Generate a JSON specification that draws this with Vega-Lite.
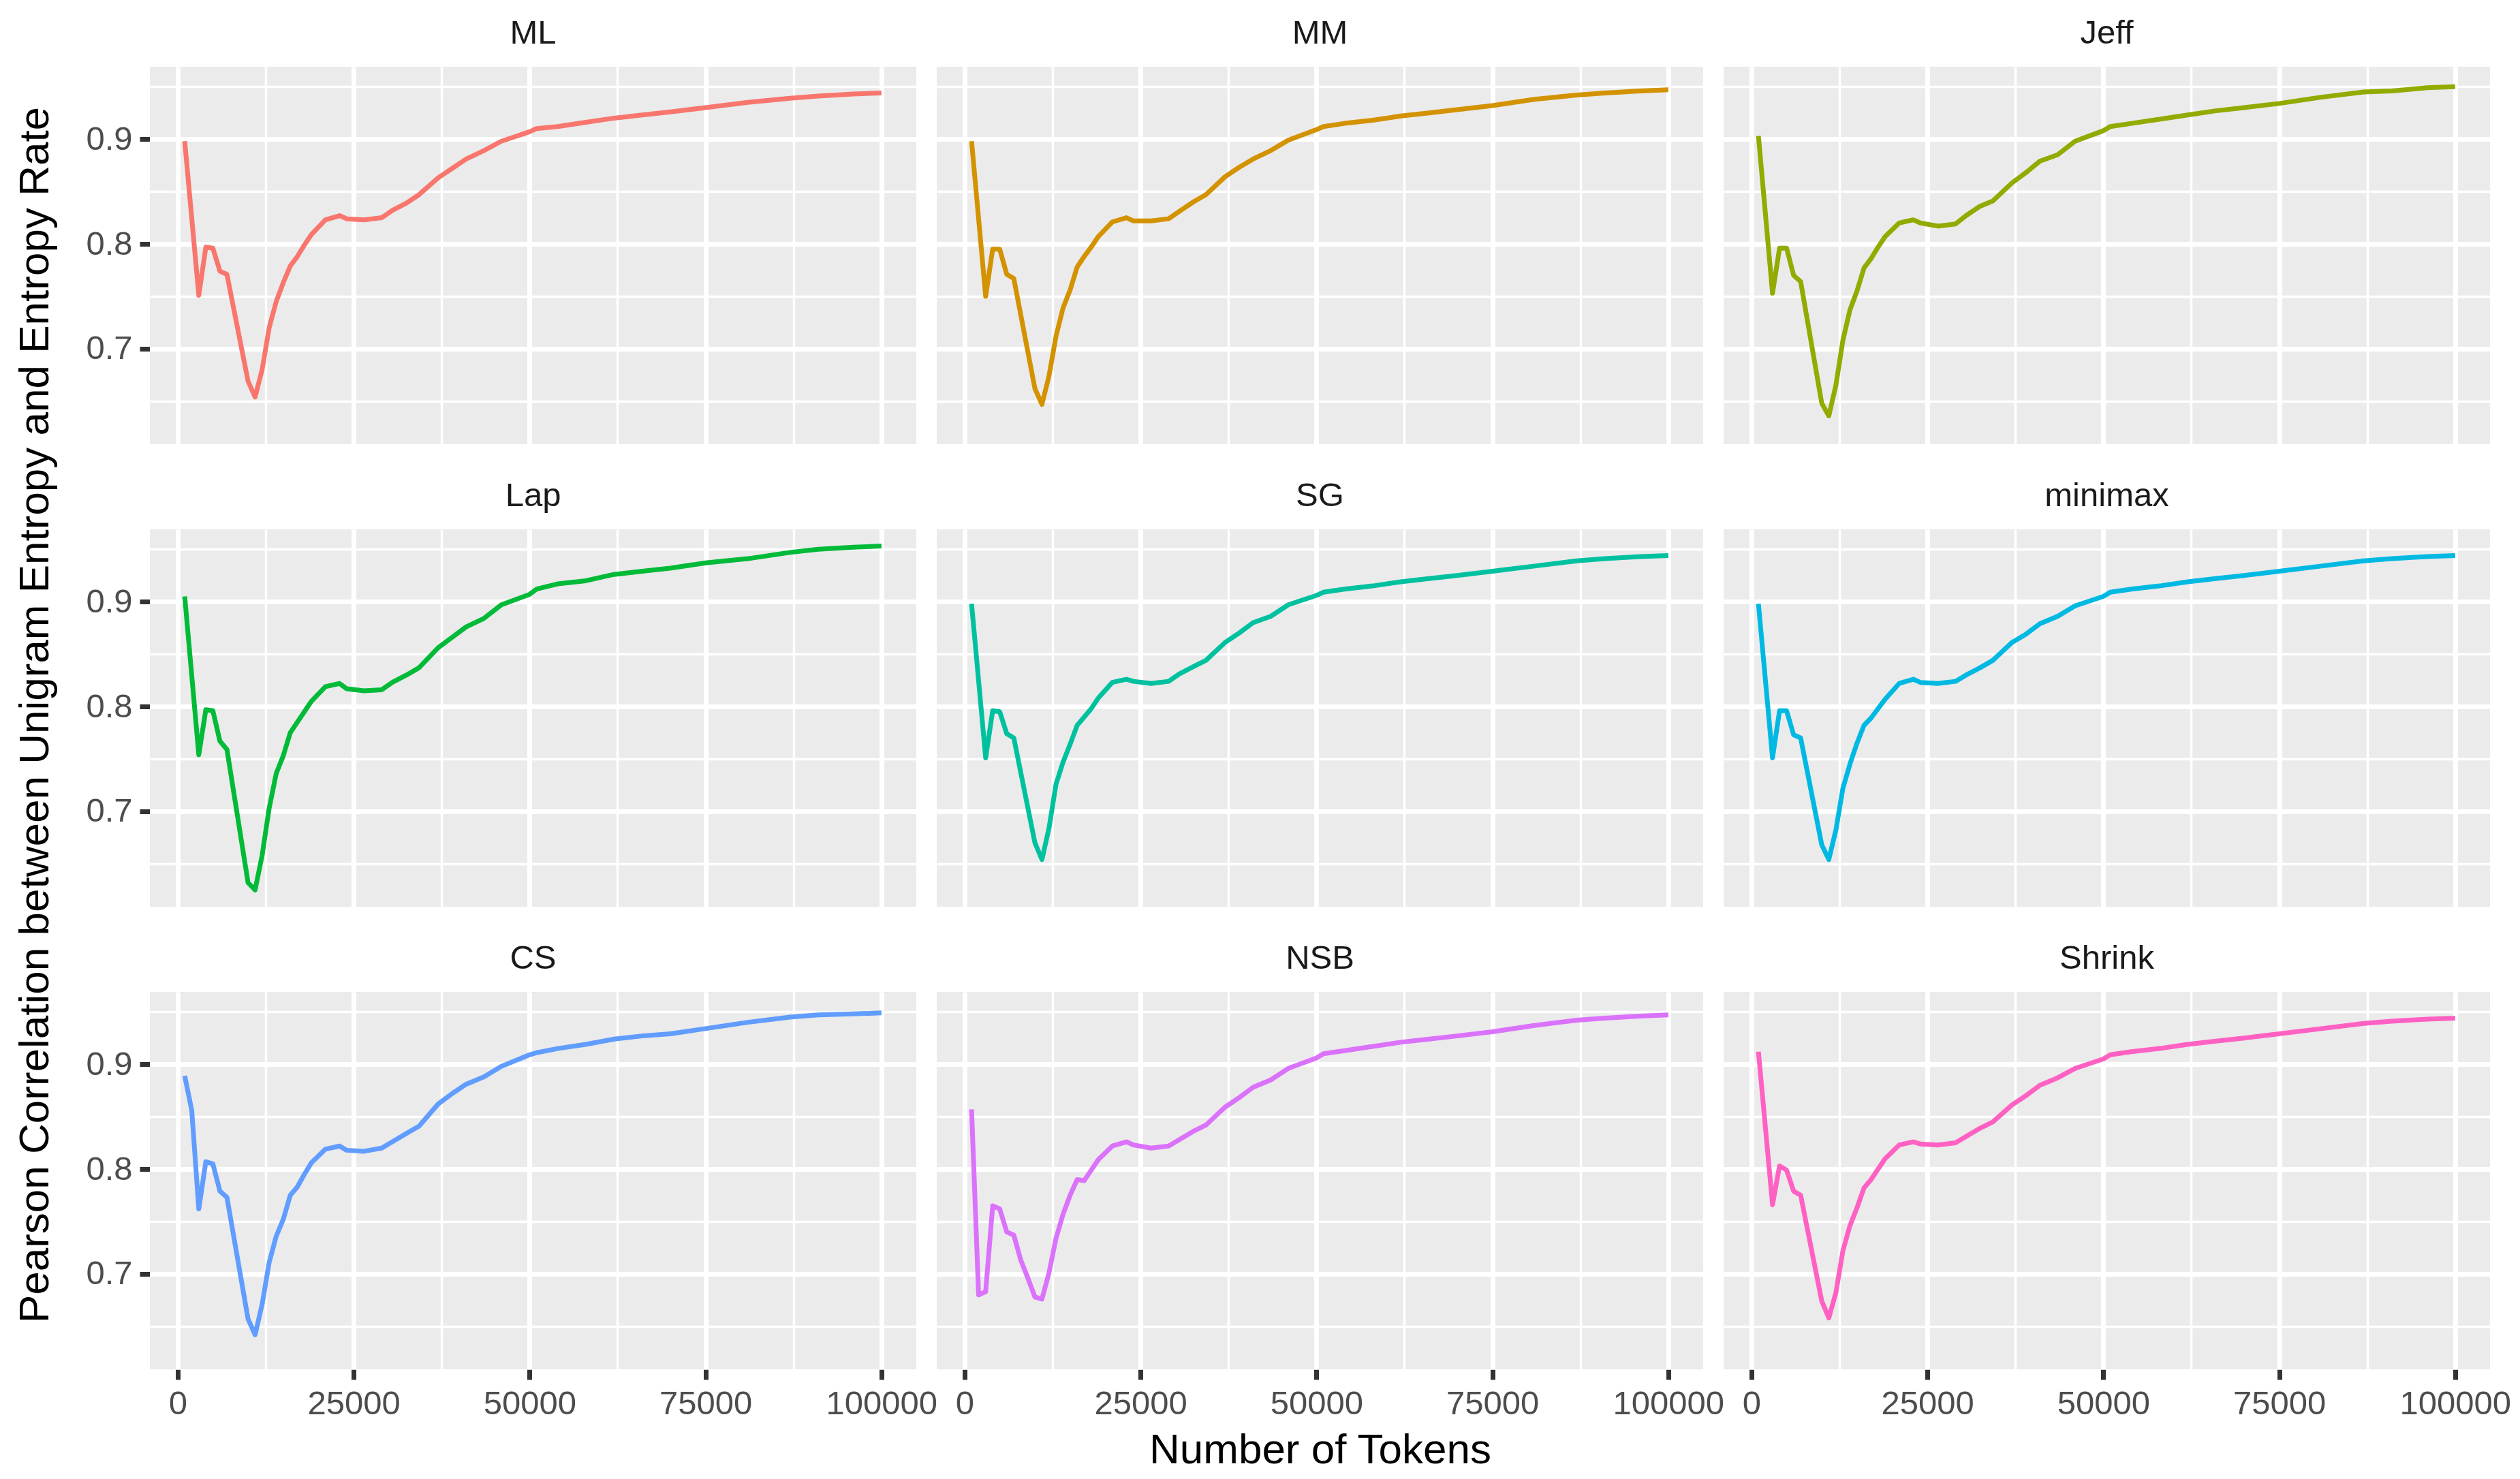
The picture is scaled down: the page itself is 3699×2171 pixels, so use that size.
{
  "$schema": "https://vega.github.io/schema/vega-lite/v6.json",
  "background": "white",
  "padding": {"left": 20, "top": 25, "right": 0, "bottom": 0},
  "title": {
    "text": "Pearson Correlation between Unigram Entropy and Entropy Rate",
    "orient": "left",
    "anchor": "middle",
    "font": "Liberation Sans",
    "fontSize": 62,
    "fontWeight": "normal",
    "color": "#000000",
    "offset": 42,
    "dx": 43
  },
  "datasets": {
    "d": [
      {"m":"ML","x":1000,"y":0.898},{"m":"ML","x":3000,"y":0.751},{"m":"ML","x":4000,"y":0.797},{"m":"ML","x":5000,"y":0.796},{"m":"ML","x":6000,"y":0.774},{"m":"ML","x":7000,"y":0.771},{"m":"ML","x":10000,"y":0.669},{"m":"ML","x":11000,"y":0.654},{"m":"ML","x":12000,"y":0.680},{"m":"ML","x":13000,"y":0.720},{"m":"ML","x":14000,"y":0.745},{"m":"ML","x":15000,"y":0.763},{"m":"ML","x":16000,"y":0.779},{"m":"ML","x":17000,"y":0.788},{"m":"ML","x":18000,"y":0.799},{"m":"ML","x":19000,"y":0.809},{"m":"ML","x":21000,"y":0.823},{"m":"ML","x":23000,"y":0.827},{"m":"ML","x":24000,"y":0.824},{"m":"ML","x":26500,"y":0.823},{"m":"ML","x":29000,"y":0.825},{"m":"ML","x":30500,"y":0.832},{"m":"ML","x":32500,"y":0.839},{"m":"ML","x":34300,"y":0.847},{"m":"ML","x":37000,"y":0.863},{"m":"ML","x":39000,"y":0.872},{"m":"ML","x":41000,"y":0.881},{"m":"ML","x":43500,"y":0.889},{"m":"ML","x":46000,"y":0.898},{"m":"ML","x":50000,"y":0.907},{"m":"ML","x":51000,"y":0.910},{"m":"ML","x":54000,"y":0.912},{"m":"ML","x":58000,"y":0.916},{"m":"ML","x":62000,"y":0.920},{"m":"ML","x":66000,"y":0.923},{"m":"ML","x":70000,"y":0.926},{"m":"ML","x":75000,"y":0.930},{"m":"ML","x":81000,"y":0.935},{"m":"ML","x":87000,"y":0.939},{"m":"ML","x":91000,"y":0.941},{"m":"ML","x":96000,"y":0.943},{"m":"ML","x":100000,"y":0.944},
      {"m":"MM","x":1000,"y":0.898},{"m":"MM","x":3000,"y":0.750},{"m":"MM","x":4000,"y":0.795},{"m":"MM","x":5000,"y":0.795},{"m":"MM","x":6000,"y":0.771},{"m":"MM","x":7000,"y":0.767},{"m":"MM","x":10000,"y":0.662},{"m":"MM","x":11000,"y":0.647},{"m":"MM","x":12000,"y":0.674},{"m":"MM","x":13000,"y":0.712},{"m":"MM","x":14000,"y":0.739},{"m":"MM","x":15000,"y":0.756},{"m":"MM","x":16000,"y":0.778},{"m":"MM","x":17000,"y":0.788},{"m":"MM","x":18000,"y":0.797},{"m":"MM","x":19000,"y":0.807},{"m":"MM","x":21000,"y":0.821},{"m":"MM","x":23000,"y":0.825},{"m":"MM","x":24000,"y":0.822},{"m":"MM","x":26500,"y":0.822},{"m":"MM","x":29000,"y":0.824},{"m":"MM","x":30500,"y":0.831},{"m":"MM","x":32500,"y":0.840},{"m":"MM","x":34300,"y":0.847},{"m":"MM","x":37000,"y":0.864},{"m":"MM","x":39000,"y":0.873},{"m":"MM","x":41000,"y":0.881},{"m":"MM","x":43500,"y":0.889},{"m":"MM","x":46000,"y":0.899},{"m":"MM","x":50000,"y":0.909},{"m":"MM","x":51000,"y":0.912},{"m":"MM","x":54000,"y":0.915},{"m":"MM","x":58000,"y":0.918},{"m":"MM","x":62000,"y":0.922},{"m":"MM","x":66000,"y":0.925},{"m":"MM","x":70000,"y":0.928},{"m":"MM","x":75000,"y":0.932},{"m":"MM","x":81000,"y":0.938},{"m":"MM","x":87000,"y":0.942},{"m":"MM","x":91000,"y":0.944},{"m":"MM","x":96000,"y":0.946},{"m":"MM","x":100000,"y":0.947},
      {"m":"Jeff","x":1000,"y":0.903},{"m":"Jeff","x":3000,"y":0.753},{"m":"Jeff","x":4000,"y":0.796},{"m":"Jeff","x":5000,"y":0.796},{"m":"Jeff","x":6000,"y":0.770},{"m":"Jeff","x":7000,"y":0.764},{"m":"Jeff","x":10000,"y":0.648},{"m":"Jeff","x":11000,"y":0.636},{"m":"Jeff","x":12000,"y":0.665},{"m":"Jeff","x":13000,"y":0.708},{"m":"Jeff","x":14000,"y":0.737},{"m":"Jeff","x":15000,"y":0.755},{"m":"Jeff","x":16000,"y":0.777},{"m":"Jeff","x":17000,"y":0.786},{"m":"Jeff","x":18000,"y":0.797},{"m":"Jeff","x":19000,"y":0.807},{"m":"Jeff","x":21000,"y":0.820},{"m":"Jeff","x":23000,"y":0.823},{"m":"Jeff","x":24000,"y":0.820},{"m":"Jeff","x":26500,"y":0.817},{"m":"Jeff","x":29000,"y":0.819},{"m":"Jeff","x":30500,"y":0.827},{"m":"Jeff","x":32500,"y":0.836},{"m":"Jeff","x":34300,"y":0.841},{"m":"Jeff","x":37000,"y":0.858},{"m":"Jeff","x":39000,"y":0.868},{"m":"Jeff","x":41000,"y":0.879},{"m":"Jeff","x":43500,"y":0.885},{"m":"Jeff","x":46000,"y":0.898},{"m":"Jeff","x":50000,"y":0.908},{"m":"Jeff","x":51000,"y":0.912},{"m":"Jeff","x":54000,"y":0.915},{"m":"Jeff","x":58000,"y":0.919},{"m":"Jeff","x":62000,"y":0.923},{"m":"Jeff","x":66000,"y":0.927},{"m":"Jeff","x":70000,"y":0.930},{"m":"Jeff","x":75000,"y":0.934},{"m":"Jeff","x":81000,"y":0.940},{"m":"Jeff","x":87000,"y":0.945},{"m":"Jeff","x":91000,"y":0.946},{"m":"Jeff","x":96000,"y":0.949},{"m":"Jeff","x":100000,"y":0.950},
      {"m":"Lap","x":1000,"y":0.905},{"m":"Lap","x":3000,"y":0.754},{"m":"Lap","x":4000,"y":0.797},{"m":"Lap","x":5000,"y":0.796},{"m":"Lap","x":6000,"y":0.767},{"m":"Lap","x":7000,"y":0.759},{"m":"Lap","x":10000,"y":0.632},{"m":"Lap","x":11000,"y":0.625},{"m":"Lap","x":12000,"y":0.658},{"m":"Lap","x":13000,"y":0.703},{"m":"Lap","x":14000,"y":0.736},{"m":"Lap","x":15000,"y":0.753},{"m":"Lap","x":16000,"y":0.775},{"m":"Lap","x":17000,"y":0.785},{"m":"Lap","x":18000,"y":0.795},{"m":"Lap","x":19000,"y":0.805},{"m":"Lap","x":21000,"y":0.819},{"m":"Lap","x":23000,"y":0.822},{"m":"Lap","x":24000,"y":0.817},{"m":"Lap","x":26500,"y":0.815},{"m":"Lap","x":29000,"y":0.816},{"m":"Lap","x":30500,"y":0.823},{"m":"Lap","x":32500,"y":0.830},{"m":"Lap","x":34300,"y":0.837},{"m":"Lap","x":37000,"y":0.856},{"m":"Lap","x":39000,"y":0.866},{"m":"Lap","x":41000,"y":0.876},{"m":"Lap","x":43500,"y":0.884},{"m":"Lap","x":46000,"y":0.897},{"m":"Lap","x":50000,"y":0.907},{"m":"Lap","x":51000,"y":0.912},{"m":"Lap","x":54000,"y":0.917},{"m":"Lap","x":58000,"y":0.920},{"m":"Lap","x":62000,"y":0.926},{"m":"Lap","x":66000,"y":0.929},{"m":"Lap","x":70000,"y":0.932},{"m":"Lap","x":75000,"y":0.937},{"m":"Lap","x":81000,"y":0.941},{"m":"Lap","x":87000,"y":0.947},{"m":"Lap","x":91000,"y":0.950},{"m":"Lap","x":96000,"y":0.952},{"m":"Lap","x":100000,"y":0.953},
      {"m":"SG","x":1000,"y":0.898},{"m":"SG","x":3000,"y":0.751},{"m":"SG","x":4000,"y":0.796},{"m":"SG","x":5000,"y":0.795},{"m":"SG","x":6000,"y":0.774},{"m":"SG","x":7000,"y":0.770},{"m":"SG","x":10000,"y":0.670},{"m":"SG","x":11000,"y":0.654},{"m":"SG","x":12000,"y":0.684},{"m":"SG","x":13000,"y":0.726},{"m":"SG","x":14000,"y":0.747},{"m":"SG","x":15000,"y":0.764},{"m":"SG","x":16000,"y":0.782},{"m":"SG","x":17000,"y":0.790},{"m":"SG","x":18000,"y":0.798},{"m":"SG","x":19000,"y":0.808},{"m":"SG","x":21000,"y":0.823},{"m":"SG","x":23000,"y":0.826},{"m":"SG","x":24000,"y":0.824},{"m":"SG","x":26500,"y":0.822},{"m":"SG","x":29000,"y":0.824},{"m":"SG","x":30500,"y":0.831},{"m":"SG","x":32500,"y":0.838},{"m":"SG","x":34300,"y":0.844},{"m":"SG","x":37000,"y":0.861},{"m":"SG","x":39000,"y":0.870},{"m":"SG","x":41000,"y":0.880},{"m":"SG","x":43500,"y":0.886},{"m":"SG","x":46000,"y":0.897},{"m":"SG","x":50000,"y":0.906},{"m":"SG","x":51000,"y":0.909},{"m":"SG","x":54000,"y":0.912},{"m":"SG","x":58000,"y":0.915},{"m":"SG","x":62000,"y":0.919},{"m":"SG","x":66000,"y":0.922},{"m":"SG","x":70000,"y":0.925},{"m":"SG","x":75000,"y":0.929},{"m":"SG","x":81000,"y":0.934},{"m":"SG","x":87000,"y":0.939},{"m":"SG","x":91000,"y":0.941},{"m":"SG","x":96000,"y":0.943},{"m":"SG","x":100000,"y":0.944},
      {"m":"minimax","x":1000,"y":0.898},{"m":"minimax","x":3000,"y":0.751},{"m":"minimax","x":4000,"y":0.796},{"m":"minimax","x":5000,"y":0.796},{"m":"minimax","x":6000,"y":0.773},{"m":"minimax","x":7000,"y":0.770},{"m":"minimax","x":10000,"y":0.668},{"m":"minimax","x":11000,"y":0.654},{"m":"minimax","x":12000,"y":0.682},{"m":"minimax","x":13000,"y":0.722},{"m":"minimax","x":14000,"y":0.745},{"m":"minimax","x":15000,"y":0.765},{"m":"minimax","x":16000,"y":0.782},{"m":"minimax","x":17000,"y":0.789},{"m":"minimax","x":18000,"y":0.798},{"m":"minimax","x":19000,"y":0.807},{"m":"minimax","x":21000,"y":0.822},{"m":"minimax","x":23000,"y":0.826},{"m":"minimax","x":24000,"y":0.823},{"m":"minimax","x":26500,"y":0.822},{"m":"minimax","x":29000,"y":0.824},{"m":"minimax","x":30500,"y":0.830},{"m":"minimax","x":32500,"y":0.837},{"m":"minimax","x":34300,"y":0.844},{"m":"minimax","x":37000,"y":0.861},{"m":"minimax","x":39000,"y":0.869},{"m":"minimax","x":41000,"y":0.879},{"m":"minimax","x":43500,"y":0.886},{"m":"minimax","x":46000,"y":0.896},{"m":"minimax","x":50000,"y":0.905},{"m":"minimax","x":51000,"y":0.909},{"m":"minimax","x":54000,"y":0.912},{"m":"minimax","x":58000,"y":0.915},{"m":"minimax","x":62000,"y":0.919},{"m":"minimax","x":66000,"y":0.922},{"m":"minimax","x":70000,"y":0.925},{"m":"minimax","x":75000,"y":0.929},{"m":"minimax","x":81000,"y":0.934},{"m":"minimax","x":87000,"y":0.939},{"m":"minimax","x":91000,"y":0.941},{"m":"minimax","x":96000,"y":0.943},{"m":"minimax","x":100000,"y":0.944},
      {"m":"CS","x":1000,"y":0.889},{"m":"CS","x":2000,"y":0.856},{"m":"CS","x":3000,"y":0.762},{"m":"CS","x":4000,"y":0.807},{"m":"CS","x":5000,"y":0.805},{"m":"CS","x":6000,"y":0.779},{"m":"CS","x":7000,"y":0.773},{"m":"CS","x":10000,"y":0.657},{"m":"CS","x":11000,"y":0.642},{"m":"CS","x":12000,"y":0.671},{"m":"CS","x":13000,"y":0.711},{"m":"CS","x":14000,"y":0.736},{"m":"CS","x":15000,"y":0.752},{"m":"CS","x":16000,"y":0.775},{"m":"CS","x":17000,"y":0.783},{"m":"CS","x":18000,"y":0.795},{"m":"CS","x":19000,"y":0.806},{"m":"CS","x":21000,"y":0.819},{"m":"CS","x":23000,"y":0.822},{"m":"CS","x":24000,"y":0.818},{"m":"CS","x":26500,"y":0.817},{"m":"CS","x":29000,"y":0.820},{"m":"CS","x":30500,"y":0.826},{"m":"CS","x":32500,"y":0.834},{"m":"CS","x":34300,"y":0.841},{"m":"CS","x":37000,"y":0.862},{"m":"CS","x":39000,"y":0.872},{"m":"CS","x":41000,"y":0.881},{"m":"CS","x":43500,"y":0.888},{"m":"CS","x":46000,"y":0.898},{"m":"CS","x":50000,"y":0.909},{"m":"CS","x":51000,"y":0.911},{"m":"CS","x":54000,"y":0.915},{"m":"CS","x":58000,"y":0.919},{"m":"CS","x":62000,"y":0.924},{"m":"CS","x":66000,"y":0.927},{"m":"CS","x":70000,"y":0.929},{"m":"CS","x":75000,"y":0.934},{"m":"CS","x":81000,"y":0.940},{"m":"CS","x":87000,"y":0.945},{"m":"CS","x":91000,"y":0.947},{"m":"CS","x":96000,"y":0.948},{"m":"CS","x":100000,"y":0.949},
      {"m":"NSB","x":1000,"y":0.857},{"m":"NSB","x":2000,"y":0.680},{"m":"NSB","x":3000,"y":0.683},{"m":"NSB","x":4000,"y":0.765},{"m":"NSB","x":5000,"y":0.762},{"m":"NSB","x":6000,"y":0.740},{"m":"NSB","x":7000,"y":0.737},{"m":"NSB","x":8000,"y":0.713},{"m":"NSB","x":9000,"y":0.696},{"m":"NSB","x":10000,"y":0.678},{"m":"NSB","x":11000,"y":0.676},{"m":"NSB","x":12000,"y":0.701},{"m":"NSB","x":13000,"y":0.734},{"m":"NSB","x":14000,"y":0.757},{"m":"NSB","x":15000,"y":0.775},{"m":"NSB","x":16000,"y":0.790},{"m":"NSB","x":17000,"y":0.789},{"m":"NSB","x":18000,"y":0.799},{"m":"NSB","x":19000,"y":0.809},{"m":"NSB","x":21000,"y":0.822},{"m":"NSB","x":23000,"y":0.826},{"m":"NSB","x":24000,"y":0.823},{"m":"NSB","x":26500,"y":0.820},{"m":"NSB","x":29000,"y":0.822},{"m":"NSB","x":30500,"y":0.828},{"m":"NSB","x":32500,"y":0.836},{"m":"NSB","x":34300,"y":0.842},{"m":"NSB","x":37000,"y":0.859},{"m":"NSB","x":39000,"y":0.868},{"m":"NSB","x":41000,"y":0.878},{"m":"NSB","x":43500,"y":0.885},{"m":"NSB","x":46000,"y":0.896},{"m":"NSB","x":50000,"y":0.906},{"m":"NSB","x":51000,"y":0.910},{"m":"NSB","x":54000,"y":0.913},{"m":"NSB","x":58000,"y":0.917},{"m":"NSB","x":62000,"y":0.921},{"m":"NSB","x":66000,"y":0.924},{"m":"NSB","x":70000,"y":0.927},{"m":"NSB","x":75000,"y":0.931},{"m":"NSB","x":81000,"y":0.937},{"m":"NSB","x":87000,"y":0.942},{"m":"NSB","x":91000,"y":0.944},{"m":"NSB","x":96000,"y":0.946},{"m":"NSB","x":100000,"y":0.947},
      {"m":"Shrink","x":1000,"y":0.912},{"m":"Shrink","x":3000,"y":0.766},{"m":"Shrink","x":4000,"y":0.803},{"m":"Shrink","x":5000,"y":0.799},{"m":"Shrink","x":6000,"y":0.779},{"m":"Shrink","x":7000,"y":0.775},{"m":"Shrink","x":10000,"y":0.674},{"m":"Shrink","x":11000,"y":0.658},{"m":"Shrink","x":12000,"y":0.682},{"m":"Shrink","x":13000,"y":0.722},{"m":"Shrink","x":14000,"y":0.746},{"m":"Shrink","x":15000,"y":0.763},{"m":"Shrink","x":16000,"y":0.782},{"m":"Shrink","x":17000,"y":0.790},{"m":"Shrink","x":18000,"y":0.800},{"m":"Shrink","x":19000,"y":0.810},{"m":"Shrink","x":21000,"y":0.823},{"m":"Shrink","x":23000,"y":0.826},{"m":"Shrink","x":24000,"y":0.824},{"m":"Shrink","x":26500,"y":0.823},{"m":"Shrink","x":29000,"y":0.825},{"m":"Shrink","x":30500,"y":0.831},{"m":"Shrink","x":32500,"y":0.839},{"m":"Shrink","x":34300,"y":0.845},{"m":"Shrink","x":37000,"y":0.861},{"m":"Shrink","x":39000,"y":0.870},{"m":"Shrink","x":41000,"y":0.880},{"m":"Shrink","x":43500,"y":0.887},{"m":"Shrink","x":46000,"y":0.896},{"m":"Shrink","x":50000,"y":0.905},{"m":"Shrink","x":51000,"y":0.909},{"m":"Shrink","x":54000,"y":0.912},{"m":"Shrink","x":58000,"y":0.915},{"m":"Shrink","x":62000,"y":0.919},{"m":"Shrink","x":66000,"y":0.922},{"m":"Shrink","x":70000,"y":0.925},{"m":"Shrink","x":75000,"y":0.929},{"m":"Shrink","x":81000,"y":0.934},{"m":"Shrink","x":87000,"y":0.939},{"m":"Shrink","x":91000,"y":0.941},{"m":"Shrink","x":96000,"y":0.943},{"m":"Shrink","x":100000,"y":0.944}
    ]
  },
  "data": {"name": "d"},
  "facet": {
    "field": "m",
    "type": "nominal",
    "sort": ["ML","MM","Jeff","Lap","SG","minimax","CS","NSB","Shrink"],
    "title": "Number of Tokens",
    "header": {
      "labelFont": "Liberation Sans", "labelFontSize": 49, "labelColor": "#1A1A1A", "labelPadding": 24,
      "titleOrient": "bottom", "titleFont": "Liberation Sans", "titleFontSize": 62, "titleFontWeight": "normal",
      "titleColor": "#000000", "titlePadding": 14
    }
  },
  "columns": 3,
  "spacing": {"row": 52, "column": 30},
  "spec": {
    "width": 1125,
    "height": 554,
    "mark": {"type": "line", "strokeWidth": 7, "strokeCap": "butt", "strokeJoin": "round"},
    "encoding": {
      "x": {
        "field": "x", "type": "quantitative", "title": null,
        "scale": {"domain": [-3950, 104950], "nice": false, "zero": false},
        "axis": {
          "values": [0, 12500, 25000, 37500, 50000, 62500, 75000, 87500, 100000],
          "format": "d",
          "labelExpr": "datum.value % 25000 != 0 ? '' : datum.label",
          "gridWidth": {"condition": {"test": "datum.value % 25000 != 0", "value": 3.5}, "value": 7},
          "tickOpacity": {"condition": {"test": "datum.value % 25000 != 0", "value": 0}, "value": 1}
        }
      },
      "y": {
        "field": "y", "type": "quantitative", "title": null,
        "scale": {"domain": [0.609, 0.969], "nice": false, "zero": false},
        "axis": {
          "values": [0.65, 0.7, 0.75, 0.8, 0.85, 0.9, 0.95],
          "format": ".1f",
          "labelExpr": "round(datum.value * 20) % 2 == 1 ? '' : datum.label",
          "gridWidth": {"condition": {"test": "round(datum.value * 20) % 2 == 1", "value": 3.5}, "value": 7},
          "tickOpacity": {"condition": {"test": "round(datum.value * 20) % 2 == 1", "value": 0}, "value": 1}
        }
      },
      "color": {
        "field": "m", "type": "nominal", "legend": null,
        "scale": {
          "domain": ["ML","MM","Jeff","Lap","SG","minimax","CS","NSB","Shrink"],
          "range": ["#F8766D","#D39200","#93AA00","#00BA38","#00C19F","#00B9E3","#619CFF","#DB72FB","#FF61C3"]
        }
      }
    }
  },
  "config": {
    "view": {"fill": "#EBEBEB", "stroke": null},
    "axis": {
      "domain": false,
      "grid": true,
      "gridColor": "#FFFFFF",
      "tickColor": "#333333",
      "tickWidth": 7,
      "tickSize": 15,
      "labelFont": "Liberation Sans",
      "labelFontSize": 49,
      "labelColor": "#4D4D4D",
      "labelPadding": 11,
      "labelOverlap": false,
      "labelFlush": false,
      "labelBound": false
    }
  }
}
